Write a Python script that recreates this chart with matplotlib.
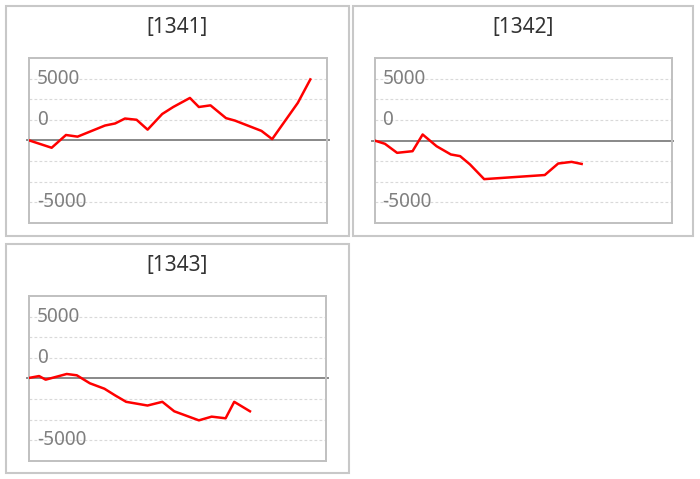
import matplotlib
matplotlib.use("Agg")
import matplotlib.pyplot as plt
from matplotlib.patches import Rectangle

plt.rcParams['font.family'] = ['Noto Sans', 'DejaVu Sans']

# data
titles = ["[1341]", "[1342]", "[1343]"]

x_1341 = [0, 7.6, 12.4, 16.3, 25.5, 28.9, 32.2, 36.1, 39.8, 44.7, 48.4, 54.0, 57.0, 60.9, 66.1, 69.1, 78.0, 81.6, 90.2, 94.4]
y_1341 = [0, -900, 650, 450, 1800, 2050, 2650, 2500, 1300, 3200, 4050, 5150, 4050, 4250, 2700, 2400, 1150, 150, 4550, 7400]

x_1342 = [0, 3.5, 7.6, 12.8, 16.2, 20.9, 25.7, 28.8, 32.1, 36.9, 57.3, 61.8, 66.3, 69.7]
y_1342 = [0, -400, -1500, -1300, 730, -700, -1700, -1900, -2900, -4700, -4200, -2800, -2600, -2850]

x_1343 = [0, 3.4, 5.6, 12.7, 16.1, 20.5, 25.4, 29.0, 32.7, 39.9, 44.9, 48.9, 57.2, 61.5, 66.2, 69.1, 74.4]
y_1343 = [50, 280, -160, 530, 370, -600, -1260, -2070, -2850, -3300, -2850, -4000, -5100, -4650, -4850, -2850, -4000]

grid_vals = [7500, 5000, 2500, -2500, -5000, -7500]
label_texts = ["5000", "0", "-5000"]
label_pos = [7500, 2500, -7500]   # the labels sit one gridline off in the original

W, H = 700, 479
fig = plt.figure(figsize=(W/100, H/100), dpi=100)

def px_box(l, t, r, b):
    return [l/W, 1 - b/H, (r-l)/W, (b-t)/H]

# panel frame (pixels), axes box (pixels), title centre (pixels)
panels = [((5.7, 5.7, 349, 235.7), (29, 58, 327, 222.7), 28),
          ((352.7, 5.7, 693.3, 235.7), (374.5, 58.3, 671.7, 222.7), 28),
          ((5.7, 244, 349, 473.3), (29, 296, 326, 460.7), 266)]
series = [(x_1341, y_1341), (x_1342, y_1342), (x_1343, y_1343)]

for (frame, box, ty), (xs, ys), title in zip(panels, series, titles):
    l, t, r, b = frame
    fig.add_artist(Rectangle((l/W, 1-b/H), (r-l)/W, (b-t)/H, transform=fig.transFigure,
                             fill=False, edgecolor="#c8c8c8", linewidth=1.5))
    fig.text(((l+r)/2)/W, 1 - ty/H, title, ha="center", va="center",
             fontsize=15, color="#333333")
    ax = fig.add_axes(px_box(*box))
    ax.set_xlim(0, 100)
    ax.set_ylim(-10000, 10000)
    for g in grid_vals:
        ax.axhline(g, color="#d9d9d9", lw=0.8, linestyle=(0, (2.5, 2)), zorder=1)
    ax.axhline(0, xmin=-0.008, xmax=1.006, color="#888888", lw=1.4, zorder=2, clip_on=False)
    for txt, v in zip(label_texts, label_pos):
        ax.text(0.027, v, txt, transform=ax.get_yaxis_transform(), ha="left", va="center",
                fontsize=13.7, color="#7f7f7f", zorder=3)
    ax.plot(xs, ys, color="#ff0000", lw=1.8, zorder=4)
    ax.set_xticks([]); ax.set_yticks([])
    for s in ax.spines.values():
        s.set_color("#c0c0c0"); s.set_linewidth(1.4)

fig.savefig("out.png", dpi=100)
